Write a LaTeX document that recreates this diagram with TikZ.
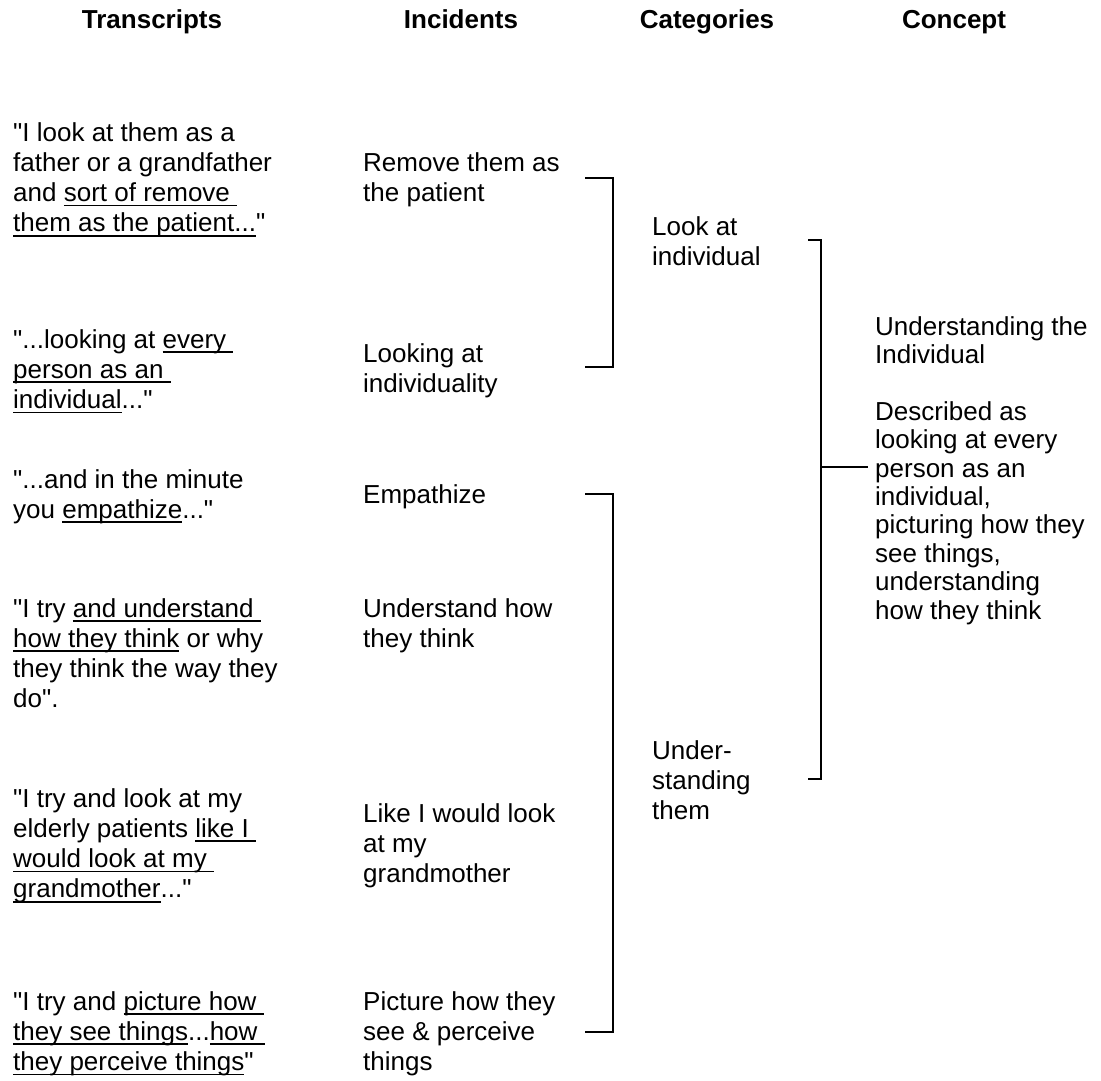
\documentclass[tikz,border=0pt]{standalone}
\usepackage{fontspec}
\setmainfont{Liberation Sans}[Ligatures=TeXOff]
\newsavebox\ulbox
\newcommand\ul[1]{\sbox\ulbox{#1}\rlap{\rule[-4.7pt]{\wd\ulbox}{1.8pt}}\usebox\ulbox}
\tikzset{
  txt/.style={anchor=base west, align=left, inner sep=0pt, font=\fontsize{26}{30.3}\selectfont},
  cpt/.style={anchor=base west, align=left, inner sep=0pt, font=\fontsize{26}{28.4}\selectfont},
  hdr/.style={anchor=base, inner sep=0pt, font=\fontsize{26}{30.3}\selectfont\bfseries},
  brk/.style={line width=1.2pt, draw=black}
}
\begin{document}
\begin{tikzpicture}[x=1pt,y=-1pt]
\useasboundingbox (0,0) rectangle (1101,1080);
% headers
\node[hdr] (h1) at (152,28) {Transcripts};
\node[hdr] (h2) at (461,28) {Incidents};
\node[hdr] (h3) at (707,28) {Categories};
\node[hdr] (h4) at (954,28) {Concept};
% transcripts (anchor = baseline of the last line)
\node[txt] (t1) at (13,231.9) {"I look at them as a\\father or a grandfather\\and \ul{sort of remove\ }\\\ul{them as the patient...}"};
\node[txt] (t2) at (13,408.6) {"...looking at \ul{every\ }\\\ul{person as an\ }\\\ul{individual}..."};
\node[txt] (t3) at (13,518.3) {"...and in the minute\\you \ul{empathize}..."};
\node[txt] (t4) at (13,707.9) {"I try \ul{and understand\ }\\\ul{how they think} or why\\they think the way they\\do".};
\node[txt] (t5) at (13,897.9) {"I try and look at my\\elderly patients \ul{like I\ }\\\ul{would look at my\ }\\\ul{grandmother}..."};
\node[txt] (t6) at (13,1070.6) {"I try and \ul{picture how\ }\\\ul{they see things}...\ul{how\ }\\\ul{they perceive things}"};
% incidents
\node[txt] (i1) at (363,201.3) {Remove them as\\the patient};
\node[txt] (i2) at (363,392.3) {Looking at\\individuality};
\node[txt] (i3) at (363,503) {Empathize};
\node[txt] (i4) at (363,647.3) {Understand how\\they think};
\node[txt] (i5) at (363,882.6) {Like I would look\\at my\\grandmother};
\node[txt] (i6) at (363,1070.6) {Picture how they\\see \& perceive\\things};
% categories
\node[txt] (c1) at (652,265.3) {Look at\\individual};
\node[txt] (c2) at (652,819.6) {Under-\\standing\\them};
% concept
\node[cpt] (k) at (875,619) {Understanding the\\Individual\\[28.4pt]Described as\\looking at every\\person as an\\individual,\\picturing how they\\see things,\\understanding\\how they think};
% bracket end points
\coordinate (b1a) at (585,178);
\coordinate (b1b) at (585,367);
\coordinate (b2a) at (585,494);
\coordinate (b2b) at (585,1032);
\coordinate (b3a) at (808,240);
\coordinate (b3b) at (808,779);
\coordinate (b3m) at (821,467);
\coordinate (kin) at (868,467);
% brackets
\draw[brk] (b1a) -- ++(28,0) |- (b1b);
\draw[brk] (b2a) -- ++(28,0) |- (b2b);
\draw[brk] (b3a) -- ++(13,0) |- (b3b);
\draw[brk] (b3m) -- (kin);
\end{tikzpicture}
\end{document}
